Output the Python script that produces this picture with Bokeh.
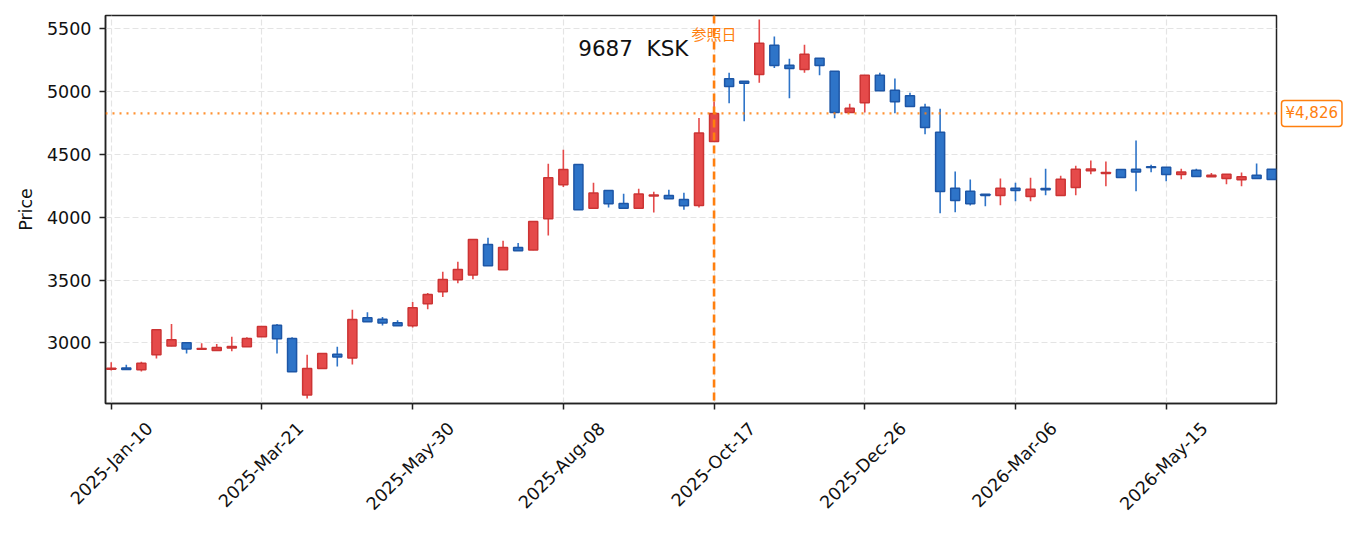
import math
from bokeh.plotting import figure
from bokeh.models import (Range1d, LinearAxis, FixedTicker, Span, Label,
                          ColumnDataSource)
from bokeh.embed import file_html
from bokeh.resources import INLINE

title_text = "9687 \u00a0KSK"
ref_label = "参照日"
ref_index = 40
ref_price = 4826

opens = [2790, 2800, 2785, 2905, 2975, 3000, 2948, 2938, 2958, 2968,
         3048, 3140, 3034, 2585, 2795, 2910, 2880, 3200, 3188, 3160,
         3135, 3311, 3406, 3502, 3541, 3783, 3581, 3758, 3740, 3988,
         4258, 4420, 4072, 4213, 4110, 4072, 4168, 4172, 4141, 4093,
         4603, 5102, 5083, 5136, 5369, 5210, 5176, 5266, 5162, 4834,
         4911, 5131, 5011, 4967, 4876, 4677, 4231, 4207, 4182, 4173,
         4231, 4165, 4228, 4173, 4236, 4370, 4349, 4380, 4382, 4401,
         4398, 4340, 4374, 4322, 4308, 4298, 4334, 4382]
highs = [2846, 2825, 2850, 3108, 3150, 3002, 2997, 2990, 3048, 3045,
         3132, 3150, 3045, 2905, 2917, 2968, 3263, 3244, 3205, 3180,
         3326, 3396, 3565, 3645, 3825, 3836, 3812, 3794, 3968, 4425,
         4537, 4422, 4274, 4215, 4186, 4226, 4202, 4218, 4194, 4789,
         4921, 5150, 5085, 5574, 5439, 5261, 5373, 5268, 5164, 4903,
         5133, 5150, 5104, 4990, 4903, 4863, 4364, 4300, 4184, 4308,
         4274, 4314, 4385, 4330, 4409, 4451, 4443, 4382, 4611, 4417,
         4400, 4385, 4385, 4353, 4344, 4356, 4428, 4384]
lows = [2780, 2783, 2772, 2875, 2972, 2915, 2945, 2935, 2932, 2966,
        3046, 2915, 2768, 2557, 2793, 2811, 2828, 3165, 3138, 3134,
        3122, 3268, 3364, 3475, 3507, 3611, 3580, 3731, 3738, 3854,
        4240, 4058, 4070, 4077, 4070, 4070, 4037, 4145, 4059, 4077,
        4600, 4908, 4764, 5070, 5189, 4947, 5150, 5131, 4788, 4832,
        4834, 5004, 4828, 4879, 4661, 4032, 4040, 4093, 4088, 4096,
        4127, 4127, 4175, 4171, 4175, 4342, 4247, 4314, 4207, 4358,
        4287, 4303, 4323, 4320, 4263, 4247, 4306, 4298]
closes = [2797, 2787, 2838, 3105, 3025, 2950, 2955, 2962, 2970, 3034,
          3130, 3032, 2770, 2795, 2915, 2888, 3185, 3168, 3158, 3136,
          3280, 3385, 3504, 3584, 3822, 3613, 3758, 3733, 3965, 4315,
          4380, 4060, 4192, 4107, 4072, 4184, 4176, 4147, 4092, 4670,
          4826, 5041, 5067, 5385, 5208, 5185, 5298, 5208, 4834, 4868,
          5131, 5006, 4919, 4881, 4714, 4205, 4133, 4107, 4172, 4231,
          4213, 4223, 4219, 4303, 4382, 4384, 4357, 4316, 4360, 4396,
          4340, 4361, 4325, 4334, 4342, 4322, 4308, 4300]

tick_positions = [0, 10, 20, 30, 40, 50, 60, 70]
tick_labels = ["2025-Jan-10", "2025-Mar-21", "2025-May-30", "2025-Aug-08",
               "2025-Oct-17", "2025-Dec-26", "2026-Mar-06", "2026-May-15"]
y_ticks = [3000, 3500, 4000, 4500, 5000, 5500]

UP_FILL, UP_LINE = "#e54a4a", "#cc3434"
DN_FILL, DN_LINE = "#2e74c8", "#1d56a6"
ORANGE = "#ff7f0e"
FONT = "DejaVu Sans"

idx = list(range(len(opens)))
up = [c >= o for o, c in zip(opens, closes)]


def subset(flag):
    ii = [i for i in idx if up[i] == flag]
    return ColumnDataSource(dict(
        x=ii,
        top=[max(opens[i], closes[i]) for i in ii],
        bottom=[min(opens[i], closes[i]) for i in ii],
        high=[highs[i] for i in ii],
        low=[lows[i] for i in ii],
    ))


src_up = subset(True)
src_dn = subset(False)

x0, x1 = -0.38, len(opens) - 1 + 0.32
y0, y1 = 2517, 5606

p = figure(width=1350, height=525, x_range=Range1d(x0, x1),
           y_range=Range1d(y0, y1), output_backend="svg",
           toolbar_location=None, min_border_left=105, min_border_right=74,
           min_border_top=15, min_border_bottom=122)
p.background_fill_color = "white"
p.border_fill_color = "white"
p.outline_line_color = "#222222"
p.outline_line_width = 1.5

# main x axis: ticks only
xa = p.xaxis[0]
xa.ticker = FixedTicker(ticks=tick_positions)
xa.major_label_text_font_size = "1px"
xa.major_label_text_alpha = 0
xa.major_label_standoff = 0
xa.major_tick_out = 6
xa.major_tick_in = 0
xa.minor_tick_line_color = None
xa.axis_line_color = "#222222"
xa.axis_line_width = 1.5
xa.major_tick_line_color = "#222222"
xa.major_tick_line_width = 1.5

# label axis (labels centred on ticks)
shift = 2.55
p.extra_x_ranges = {"lbl": Range1d(x0 - shift, x1 - shift)}
la = LinearAxis(x_range_name="lbl", ticker=FixedTicker(ticks=tick_positions),
                major_label_overrides={t: s for t, s in zip(tick_positions, tick_labels)})
la.axis_line_color = None
la.major_tick_line_color = None
la.minor_tick_line_color = None
la.major_tick_in = 0
la.major_tick_out = 0
la.major_label_orientation = math.pi / 4
la.major_label_standoff = 16
la.major_label_text_font = FONT
la.major_label_text_font_size = "17.5px"
la.major_label_text_color = "#111111"
p.add_layout(la, "below")

ya = p.yaxis[0]
ya.ticker = FixedTicker(ticks=y_ticks)
ya.major_label_text_font = FONT
ya.major_label_text_font_size = "17.5px"
ya.major_label_text_color = "#111111"
ya.major_label_standoff = 8
ya.major_tick_out = 6
ya.major_tick_in = 0
ya.minor_tick_line_color = None
ya.axis_line_color = "#222222"
ya.axis_line_width = 1.5
ya.major_tick_line_color = "#222222"
ya.major_tick_line_width = 1.5
ya.axis_label = "Price"
ya.axis_label_text_font = FONT
ya.axis_label_text_font_size = "17.5px"
ya.axis_label_text_font_style = "normal"
ya.axis_label_text_color = "#111111"
ya.axis_label_standoff = 8

p.xgrid.ticker = FixedTicker(ticks=tick_positions)
for g in (p.xgrid[0], p.ygrid[0]):
    g.grid_line_color = "#e4e4e4"
    g.grid_line_dash = "6 3"
    g.grid_line_width = 1.2

# candles
for src, fill, line in ((src_up, UP_FILL, UP_LINE), (src_dn, DN_FILL, DN_LINE)):
    p.segment(x0="x", y0="low", x1="x", y1="high", source=src,
              line_color=fill, line_width=1.6)
    p.vbar(x="x", width=0.6, top="top", bottom="bottom", source=src,
           fill_color=fill, line_color=line, line_width=1.5)

p.add_layout(Span(location=ref_index, dimension="height", line_color=ORANGE,
                  line_width=2.6, line_dash="8 5"))
p.add_layout(Span(location=ref_price, dimension="width", line_color=ORANGE,
                  line_width=2.2, line_dash="2 5", line_alpha=0.85))

p.add_layout(Label(x=ref_index, y=5463, text=ref_label, text_align="center",
                   text_baseline="middle", text_color=ORANGE,
                   text_font="Noto Sans CJK JP", text_font_size="15px"))
p.add_layout(Label(x=38.3, y=5343, text=title_text, text_align="right",
                   text_baseline="alphabetic", text_color="#111111",
                   text_font=FONT, text_font_size="21.5px"))
price_tag = Label(x=x1, y=ref_price, x_offset=5, text=f"¥{ref_price:,}",
                  text_align="left", text_baseline="middle",
                  text_color=ORANGE, text_font=FONT, text_font_size="15px",
                  background_fill_color="white", border_line_color=ORANGE,
                  border_line_width=1.5, border_radius=3, padding=4)
p.add_layout(price_tag, "right")

open("out.html", "w").write(file_html(p, INLINE))
